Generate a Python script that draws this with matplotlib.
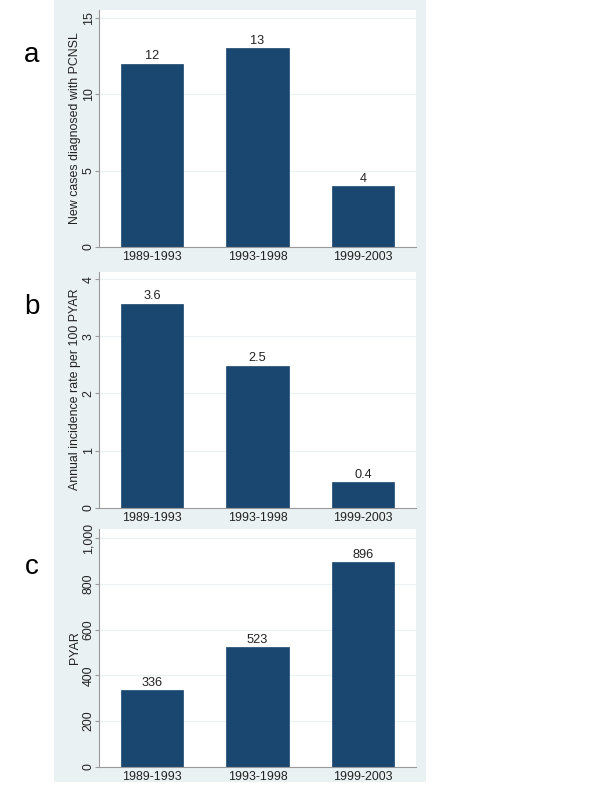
import matplotlib
matplotlib.use("Agg")
import matplotlib.pyplot as plt
from matplotlib.patches import Rectangle

periods = ["1989-1993", "1993-1998", "1999-2003"]
cases = [12, 13, 4]
rates = [3.57, 2.49, 0.446]
pyar = [336, 523, 896]

plt.rcParams['font.family'] = ['Liberation Sans', 'DejaVu Sans']

bar_color = '#1a476f'
bg = '#eaf1f3'
axis_gray = '#9a9a9a'

fig = plt.figure(figsize=(6, 8), dpi=100)
fig.patch.set_facecolor('white')
fig.patches.append(Rectangle((54/600, 1-782/800), (426-54)/600, 782/800,
                             transform=fig.transFigure, facecolor=bg,
                             edgecolor='none', zorder=-10))

# (values, bottom px, top px, ylim top, ticks, tick labels, ylabel, fmt, letter, letter y px)
panels = [
    (cases, 247, 10, 15.52, [0, 5, 10, 15], ["0", "5", "10", "15"],
     "New cases diagnosed with PCNSL", "{:.0f}", "a", 55),
    (rates, 507.7, 271.7, 4.133, [0, 1, 2, 3, 4], ["0", "1", "2", "3", "4"],
     "Annual incidence rate per 100 PYAR", "{:.1f}", "b", 307),
    (pyar, 766.7, 529, 1040.7, [0, 200, 400, 600, 800, 1000],
     ["0", "200", "400", "600", "800", "1,000"], "PYAR", "{:.0f}", "c", 567),
]

for vals, ybot, ytop, ymax, ticks, tlabels, ylabel, fmt, letter, ly in panels:
    ax = fig.add_axes([99/600, 1-ybot/800, 317/600, (ybot-ytop)/800])
    ax.set_facecolor('white')
    ax.set_axisbelow(True)
    bars = ax.bar(range(len(periods)), vals, width=0.59, color=bar_color,
                  edgecolor=bar_color, linewidth=0.5)
    for b, v in zip(bars, vals):
        ax.annotate(fmt.format(v), (b.get_x() + b.get_width()/2, v),
                    xytext=(0, 1), textcoords='offset points',
                    ha='center', va='bottom', fontsize=9.2, color='#222222')
    ax.set_xlim(-0.5, 2.5)
    ax.set_ylim(0, ymax)
    ax.set_xticks(range(len(periods)))
    ax.set_xticklabels(periods, fontsize=8.9, color='#222222')
    ax.set_yticks(ticks)
    ax.set_yticklabels(tlabels, fontsize=8.9, rotation=90, va='center',
                       color='#222222')
    ax.tick_params(axis='x', length=0, pad=3)
    ax.tick_params(axis='y', length=3, width=0.8, color=axis_gray, pad=0)
    ax.yaxis.grid(True, color=bg, linewidth=0.8)
    for s in ['top', 'right']:
        ax.spines[s].set_visible(False)
    for s in ['left', 'bottom']:
        ax.spines[s].set_color(axis_gray)
        ax.spines[s].set_linewidth(0.8)
    ax.set_ylabel(ylabel, fontsize=8.9, labelpad=1, color='#222222')
    fig.text(32/600, 1-ly/800, letter, fontsize=20, ha='center', va='center')

fig.savefig("out.png", dpi=100)
